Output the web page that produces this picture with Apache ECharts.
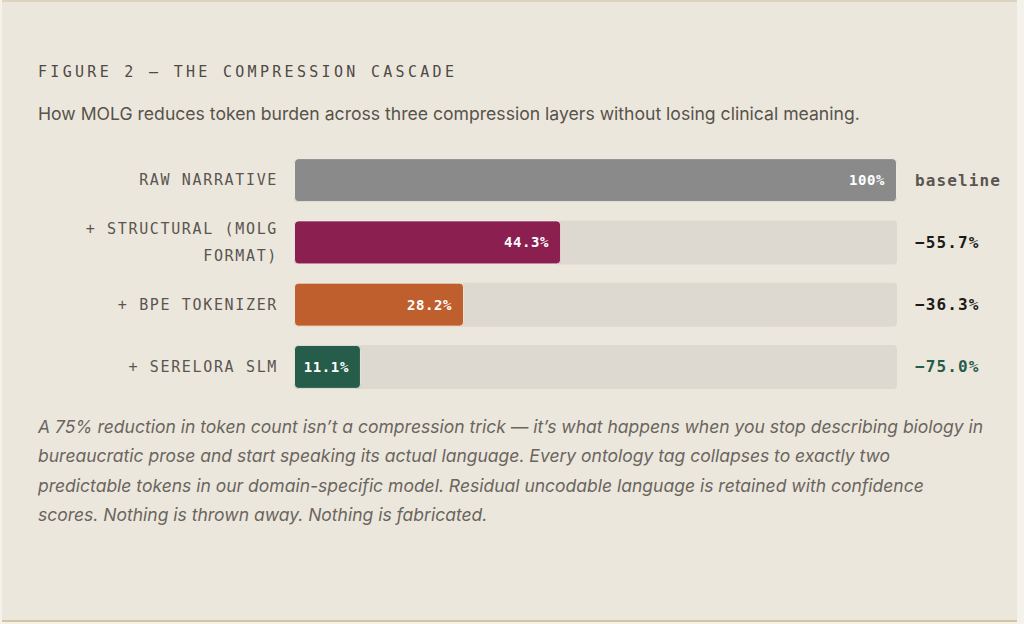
<!DOCTYPE html>
<html>
<head>
<meta charset="utf-8">
<script src="https://cdn.jsdelivr.net/npm/echarts@6/dist/echarts.min.js"></script>
<style>
  body { margin: 0; background: #f5f2ec; }
  #panel { position: absolute; left: 2px; top: 0; width: 1015px; height: 618px; background: #ece7dd;
           border-top: 2px solid #ddd3be; border-bottom: 2px solid #d5c4a1; }
  #main { position: absolute; left: 0; top: 0; width: 1024px; height: 624px; }
</style>
</head>
<body>
<div id="panel"></div>
<div id="main"></div>
<script>
// chart data
const categories = ['RAW NARRATIVE', '+ STRUCTURAL (MOLG FORMAT)', '+ BPE TOKENIZER', '+ SERELORA SLM'];
const shares = [100, 44.3, 28.2, 11.1];          // % of raw token count
const trackMax = [100, 100, 100, 100];           // grey track behind each bar
const deltas = ['baseline', '−55.7%', '−36.3%', '−75.0%'];
const barColors = ['#8a8a8a', '#8b1f4f', '#c05f2e', '#265c4a'];
const deltaColors = ['#5a5550', '#1c1a18', '#1c1a18', '#265c4a'];

const titleText = 'FIGURE 2 — THE COMPRESSION CASCADE';
const subtitleText = 'How MOLG reduces token burden across three compression layers without losing clinical meaning.';
const noteLines = [
  'A 75% reduction in token count isn\u2019t a compression trick — it\u2019s what happens when you stop describing biology in',
  'bureaucratic prose and start speaking its actual language. Every ontology tag collapses to exactly two',
  'predictable tokens in our domain-specific model. Residual uncodable language is retained with confidence',
  'scores. Nothing is thrown away. Nothing is fabricated.'
];

const MONO = '"DejaVu Sans Mono", monospace';
const SANS = 'Inter, "Noto Sans", sans-serif';

// word wrap, so a wrapped line carries no trailing space
function wrapLabel(text, maxChars) {
  const lines = [];
  let cur = '';
  text.split(' ').forEach(w => {
    if (cur && (cur + ' ' + w).length > maxChars) { lines.push(cur); cur = w; }
    else cur = cur ? cur + ' ' + w : w;
  });
  lines.push(cur);
  return lines.join('\n');
}

const chart = echarts.init(document.getElementById('main'), null, { renderer: 'svg' });

const rich = {};
deltaColors.forEach((c, i) => {
  rich['d' + i] = { color: c, fontFamily: MONO, fontWeight: 'bold', fontSize: 16 };
});

const option = {
  animation: false,
  backgroundColor: 'transparent',
  grid: { left: 294, right: 127, top: 149, bottom: 226 },
  xAxis: { type: 'value', min: 0, max: 100, show: false },
  yAxis: [
    {
      type: 'category',
      data: categories,
      inverse: true,
      axisLine: { show: false },
      axisTick: { show: false },
      axisLabel: {
        margin: 16,
        lineHeight: 27,
        fontFamily: MONO,
        fontSize: 15,
        color: '#5a5550',
        formatter: v => wrapLabel(v, 18)
      }
    },
    {
      type: 'category',
      data: deltas,
      inverse: true,
      position: 'right',
      axisLine: { show: false },
      axisTick: { show: false },
      axisLabel: {
        margin: 18,
        align: 'left',
        formatter: (v, i) => '{d' + i + '|' + v + '}',
        rich: rich
      }
    }
  ],
  series: [
    {
      type: 'bar',
      data: trackMax,
      barWidth: 44,
      barGap: '-100%',
      silent: true,
      itemStyle: { color: '#ded9d0', borderRadius: 4 }
    },
    {
      type: 'bar',
      data: shares.map((v, i) => ({ value: v, itemStyle: { color: barColors[i] } })),
      barWidth: 44,
      itemStyle: { borderRadius: 4, borderColor: 'rgba(250,247,240,0.8)', borderWidth: 1 },
      label: {
        show: true,
        position: 'insideRight',
        distance: 12,
        color: '#ffffff',
        fontFamily: MONO,
        fontWeight: 'bold',
        fontSize: 14,
        formatter: p => p.value + '%'
      }
    }
  ],
  graphic: [
    {
      type: 'text', x: 38, y: 72,
      style: { text: titleText, fontFamily: MONO, fontSize: 15, fill: '#4f4a44', verticalAlign: 'middle' }
    },
    {
      type: 'text', x: 38, y: 113,
      style: { text: subtitleText, fontFamily: SANS, fontSize: 17.6, fill: '#57524b', verticalAlign: 'middle' }
    },
    {
      type: 'text', x: 38, y: 411.5,
      style: {
        text: noteLines.join('\n'), fontFamily: SANS, fontSize: 17.5, fontStyle: 'italic',
        lineHeight: 29.4, fill: '#6a655e', verticalAlign: 'top'
      }
    }
  ]
};

chart.setOption(option);

// letter spacing for the mono labels (svg text picks up css letter-spacing)
function applySpacing() {
  document.querySelectorAll('#main svg text').forEach(t => {
    const s = t.textContent;
    if (!s) return;
    let ls = 0;
    if (s === titleText) ls = 3.3;
    else if (categories.some(c => c.includes(s))) ls = 1.65;
    else if (deltas.includes(s)) ls = 1.1;
    else if (/%$/.test(s)) ls = 0.6;
    if (ls) t.style.letterSpacing = ls + 'px';
  });
}
chart.on('finished', applySpacing);
setTimeout(applySpacing, 50);
setTimeout(applySpacing, 300);
</script>
</body>
</html>
